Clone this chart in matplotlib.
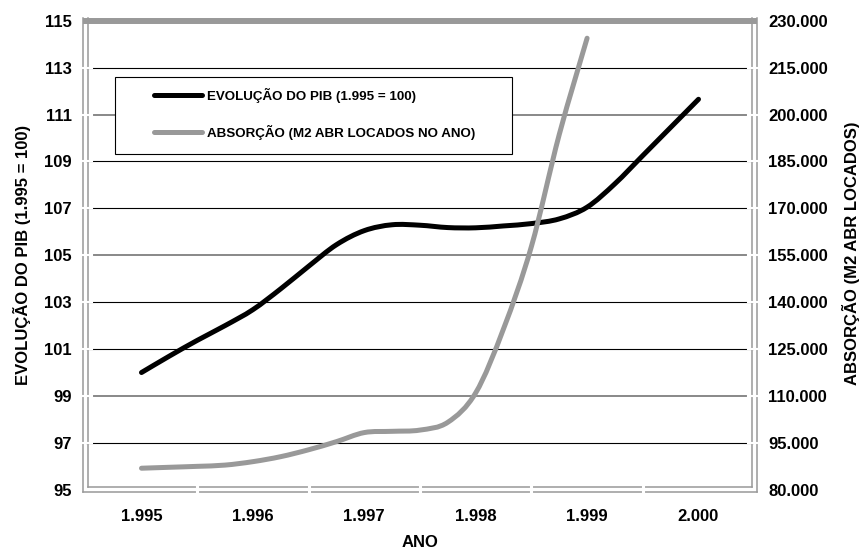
#!/usr/bin/env python3
"""PIB evolution vs. absorption (m2 ABR leased) - Excel-style smoothed twin-axis chart."""
import matplotlib
matplotlib.use("Agg")
import matplotlib.pyplot as plt
from matplotlib.lines import Line2D
from matplotlib.patches import PathPatch, Rectangle
from matplotlib.path import Path
from matplotlib.ticker import FuncFormatter

# category labels (years) and quarterly readings taken off the chart
YEARS = ["1.995", "1.996", "1.997", "1.998", "1.999", "2.000"]
PIB = [100.0, 100.7, 101.37, 102.0, 102.68, 103.57, 104.53, 105.45, 106.05, 106.3,
       106.28, 106.18, 106.17, 106.25, 106.35, 106.55, 107.05, 108.05, 109.25,
       110.45, 111.65]
ABSORCAO = [86900, 87200, 87500, 87900, 89000, 90600, 92800, 95400, 98300, 98700,
            99100, 101600, 111000, 131500, 157800, 193600, 224400]
PIB_LABEL = "EVOLUÇÃO DO PIB (1.995 = 100)"
ABS_LABEL = "ABSORÇÃO (M2 ABR LOCADOS NO ANO)"
LEFT_TICKS = list(range(95, 116, 2))
RIGHT_TICKS = list(range(80000, 230001, 15000))

W, H = 862, 554
GRAY = "#999999"
plt.rcParams["font.family"] = ["Liberation Sans", "DejaVu Sans"]
plt.rcParams["font.weight"] = "bold"


def smooth_path(xs, ys):
    # Excel-like smoothing: cubic bezier through every point (catmull-rom controls)
    pts = list(zip(xs, ys))
    n = len(pts)
    verts, codes = [pts[0]], [Path.MOVETO]
    for i in range(n - 1):
        p0 = pts[i - 1] if i > 0 else pts[i]
        p1, p2 = pts[i], pts[i + 1]
        p3 = pts[i + 2] if i + 2 < n else pts[i + 1]
        c1 = (p1[0] + (p2[0] - p0[0]) / 6, p1[1] + (p2[1] - p0[1]) / 6)
        c2 = (p2[0] - (p3[0] - p1[0]) / 6, p2[1] - (p3[1] - p1[1]) / 6)
        verts += [c1, c2, p2]
        codes += [Path.CURVE4] * 3
    return Path(verts, codes)


def fline(fig, x0, y0, x1, y1, **kw):
    # line in figure pixel coords (y from top)
    fig.add_artist(Line2D([x0 / W, x1 / W], [1 - y0 / H, 1 - y1 / H],
                          transform=fig.transFigure, **kw))


fig = plt.figure(figsize=(W / 100, H / 100), dpi=100, facecolor="white")
L, R, T, B = 85.8, 754.2, 20.7, 489.8
ax = fig.add_axes([L / W, 1 - B / H, (R - L) / W, (B - T) / H])
ax.set_xlim(-0.5, 5.5)
ax.set_ylim(95, 115)
ax.set_xticks(range(len(YEARS)), YEARS)
ax.set_yticks(LEFT_TICKS)
for s in ax.spines.values():
    s.set_visible(False)
ax.tick_params(axis="both", length=0, labelsize=12)
ax.tick_params(axis="y", pad=10)
ax.tick_params(axis="x", pad=14)

# gridlines: a few render gray and heavier in the original
heavy = {99, 105, 111}
for v in LEFT_TICKS[1:-1]:
    if v in heavy:
        ax.axhline(v, color="#7f7f7f", lw=1.3, zorder=0.5)
    else:
        ax.axhline(v, color="black", lw=0.8, zorder=0.5)

pib_x = [i / 4 for i in range(len(PIB))]
ax.add_patch(PathPatch(smooth_path(pib_x, PIB), facecolor="none", edgecolor="black",
                       lw=3.6, capstyle="round", joinstyle="round", zorder=2))

ax2 = ax.twinx()
ax2.set_ylim(80000, 230000)
ax2.set_yticks(RIGHT_TICKS)
ax2.yaxis.set_major_formatter(FuncFormatter(lambda v, _: f"{v:,.0f}".replace(",", ".")))
for s in ax2.spines.values():
    s.set_visible(False)
ax2.tick_params(axis="y", length=0, labelsize=12, pad=10)
abs_x = [i / 4 for i in range(len(ABSORCAO))]
ax2.add_patch(PathPatch(smooth_path(abs_x, ABSORCAO), facecolor="none", edgecolor=GRAY,
                        lw=3.6, capstyle="round", joinstyle="round", zorder=2))

ax.set_ylabel(PIB_LABEL, fontsize=12, fontweight="bold")
ax.yaxis.label.set_verticalalignment("center")
ax.yaxis.set_label_coords(-0.0955, 0.5)
ax2.set_ylabel("ABSORÇÃO (M2 ABR LOCADOS)", fontsize=12, fontweight="bold")
ax2.yaxis.label.set_verticalalignment("center")
ax2.yaxis.set_label_coords(1.1448, 0.505)
ax.set_xlabel("ANO", fontsize=12, fontweight="bold")
ax.xaxis.label.set_verticalalignment("center")
ax.xaxis.set_label_coords(0.5, -0.113)

# double-line plot border + thick top edge
for x in (83.3, 88.3):
    fline(fig, x, 18, x, 492.3 if x < 85 else 487.3, color=GRAY, lw=1.1, zorder=3)
for x in (751.7, 756.7):
    fline(fig, x, 18, x, 492.3 if x > 754 else 487.3, color=GRAY, lw=1.1, zorder=3)
fline(fig, 88.3, 487.3, 751.7, 487.3, color=GRAY, lw=1.1, zorder=3)
fline(fig, 83.3, 492.3, 756.7, 492.3, color=GRAY, lw=1.1, zorder=3)
fline(fig, 83, 20.7, 757, 20.7, color=GRAY, lw=4.3, zorder=3, solid_capstyle="butt")

# white tick notches crossing the double lines
step_y = (B - T) / (len(LEFT_TICKS) - 1)
for k in range(1, len(LEFT_TICKS) - 1):
    y = B - k * step_y
    fline(fig, 80, y, 92, y, color="white", lw=1.5, zorder=4)
    fline(fig, 748, y, 760, y, color="white", lw=1.5, zorder=4)
step_x = (R - L) / len(YEARS)
for k in range(1, len(YEARS)):
    x = L + k * step_x
    fline(fig, x, 484, x, 495, color="white", lw=2.2, zorder=4)

# legend box
fig.add_artist(Rectangle((115 / W, 1 - 154 / H), (512 - 115) / W, (154 - 76.7) / H,
                         transform=fig.transFigure, facecolor="white", edgecolor="black",
                         lw=0.8, zorder=5))
for y, c, lab in ((95, "black", PIB_LABEL), (132, GRAY, ABS_LABEL)):
    fline(fig, 154, y, 202, y, color=c, lw=3.6, solid_capstyle="round", zorder=6)
    fig.text(207 / W, 1 - y / H, lab, fontsize=9.6, fontweight="bold",
             ha="left", va="center", zorder=6)

fig.savefig("out.png", dpi=100, facecolor="white")
plt.close(fig)
